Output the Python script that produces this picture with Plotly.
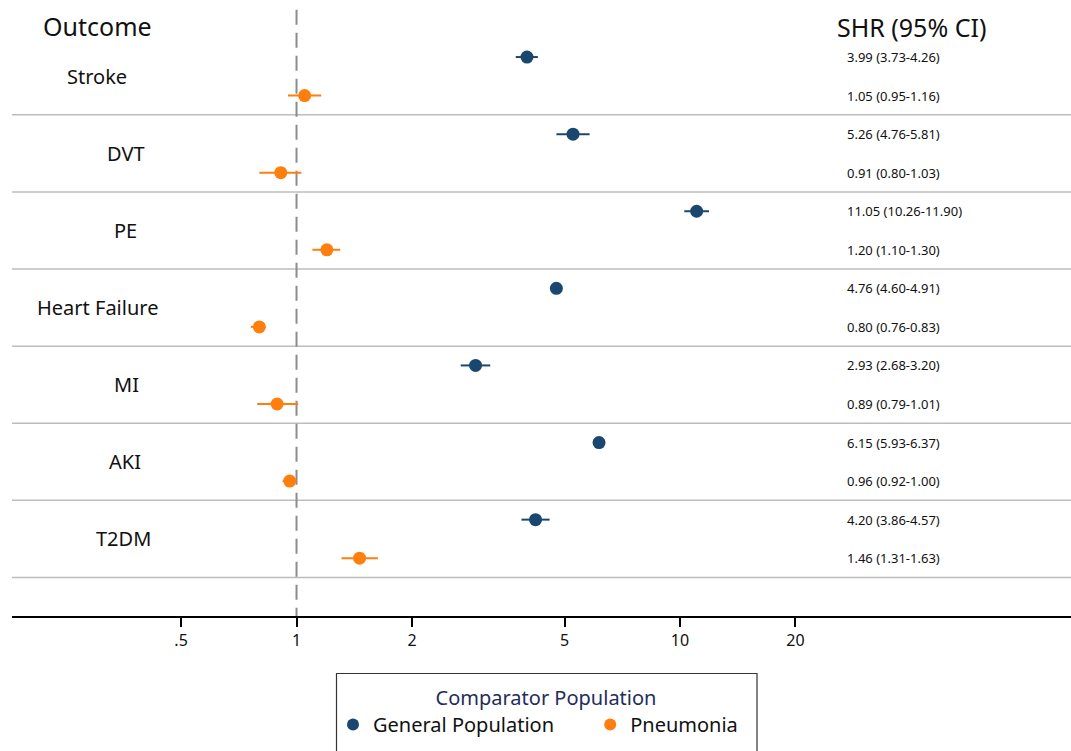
import plotly.graph_objects as go

outcomes = ["Stroke", "DVT", "PE", "Heart Failure", "MI", "AKI", "T2DM"]
gp_shr = [3.99, 5.26, 11.05, 4.76, 2.93, 6.15, 4.20]
gp_lo = [3.73, 4.76, 10.26, 4.60, 2.68, 5.93, 3.86]
gp_hi = [4.26, 5.81, 11.90, 4.91, 3.20, 6.37, 4.57]
pn_shr = [1.05, 0.91, 1.20, 0.80, 0.89, 0.96, 1.46]
pn_lo = [0.95, 0.80, 1.10, 0.76, 0.79, 0.92, 1.31]
pn_hi = [1.16, 1.03, 1.30, 0.83, 1.01, 1.00, 1.63]
tick_vals = [0.5, 1, 2, 5, 10, 20]
tick_text = [".5", "1", "2", "5", "10", "20"]
series_names = ["General Population", "Pneumonia"]

NAVY = "#1a476f"
ORANGE = "#ff7f0e"
FONT = "Noto Sans"

# row layout (in y units; 4 units per outcome block)
n = len(outcomes)
gp_y = [4 * i for i in range(n)]
pn_y = [4 * i + 2 for i in range(n)]
sep_y = [4 * i + 3 for i in range(n)]
label_y = [4 * i + 1 for i in range(n)]
label_cx = [97, 126, 125, 97, 126, 125, 123]  # pixel centres of outcome labels

L, W_PLOT, H_PLOT = 12, 1059, 616
x_range = [-0.7419, 2.0195]
y_range = [29, -2.96]

def px_to_paper(px):
    return (px - L) / W_PLOT

def py_to_paper(py):
    return (H_PLOT - py) / H_PLOT

fig = go.Figure()

def add_series(shr, lo, hi, ys, color, name):
    fig.add_trace(go.Scatter(
        x=shr, y=ys, mode="markers", name=name,
        marker=dict(color=color, size=13, line=dict(width=0)),
        error_x=dict(type="data", symmetric=False,
                     array=[h - s for h, s in zip(hi, shr)],
                     arrayminus=[s - l for s, l in zip(shr, lo)],
                     color=color, thickness=2, width=0),
        hoverinfo="skip",
    ))

add_series(gp_shr, gp_lo, gp_hi, gp_y, NAVY, series_names[0] + "\u00a0" * 6)
add_series(pn_shr, pn_lo, pn_hi, pn_y, ORANGE, series_names[1] + "\u00a0" * 3)

shapes = []
for y in sep_y:
    shapes.append(dict(type="line", xref="paper", yref="y", x0=0, x1=1, y0=y, y1=y,
                       line=dict(color="#bdbdbd", width=1.5), layer="below"))
shapes.append(dict(type="line", xref="x", yref="y", x0=1, x1=1, y0=-2.45, y1=29,
                   line=dict(color="#8c8c8c", width=2, dash="15px,8px"), layer="below"))
# legend frame
shapes.append(dict(type="rect", xref="paper", yref="paper",
                   x0=px_to_paper(336.5), x1=px_to_paper(757), y0=py_to_paper(673.5), y1=py_to_paper(780),
                   line=dict(color="#333333", width=1.2), fillcolor="rgba(0,0,0,0)", layer="above"))

annotations = []
for name, y, cx in zip(outcomes, label_y, label_cx):
    annotations.append(dict(text=name, x=px_to_paper(cx), xref="paper", y=y, yref="y",
                            showarrow=False, xanchor="center", yanchor="middle",
                            font=dict(family=FONT, size=20, color="#111111")))
for s, l, h, y in zip(gp_shr, gp_lo, gp_hi, gp_y):
    annotations.append(dict(text=f"{s:.2f} ({l:.2f}-{h:.2f})", x=px_to_paper(845), xref="paper",
                            y=y, yref="y", showarrow=False, xanchor="left", yanchor="middle",
                            font=dict(family=FONT, size=13, color="#111111")))
for s, l, h, y in zip(pn_shr, pn_lo, pn_hi, pn_y):
    annotations.append(dict(text=f"{s:.2f} ({l:.2f}-{h:.2f})", x=px_to_paper(845), xref="paper",
                            y=y, yref="y", showarrow=False, xanchor="left", yanchor="middle",
                            font=dict(family=FONT, size=13, color="#111111")))
annotations.append(dict(text="Outcome", x=px_to_paper(97), xref="paper", y=-1.6, yref="y",
                        showarrow=False, xanchor="center", yanchor="middle",
                        font=dict(family=FONT, size=25, color="#111111")))
annotations.append(dict(text="SHR (95% CI)", x=px_to_paper(911), xref="paper", y=-1.55, yref="y",
                        showarrow=False, xanchor="center", yanchor="middle",
                        font=dict(family=FONT, size=25, color="#111111")))

fig.update_layout(
    width=1071, height=751,
    margin=dict(l=L, r=0, t=0, b=751 - H_PLOT),
    paper_bgcolor="white", plot_bgcolor="white",
    shapes=shapes, annotations=annotations,
    xaxis=dict(type="log", range=x_range, tickvals=tick_vals, ticktext=tick_text,
               showgrid=False, zeroline=False, showline=True, linecolor="black", linewidth=2,
               ticks="outside", ticklen=9, tickwidth=1.5, tickcolor="black",
               tickfont=dict(family=FONT, size=16, color="#111111"), fixedrange=True),
    yaxis=dict(range=y_range, visible=False, fixedrange=True),
    showlegend=True,
    legend=dict(orientation="h", x=px_to_paper(546), xanchor="center", xref="paper",
                y=py_to_paper(679), yanchor="top",
                borderwidth=0, bgcolor="rgba(0,0,0,0)",
                title=dict(text="Comparator Population", side="top center",
                           font=dict(family=FONT, size=20, color="#1f2d5a")),
                font=dict(family=FONT, size=20, color="#111111"),
                itemsizing="constant"),
)

fig.write_html("out.html", config={"displayModeBar": False},
               post_script="document.body.style.margin='0';")
